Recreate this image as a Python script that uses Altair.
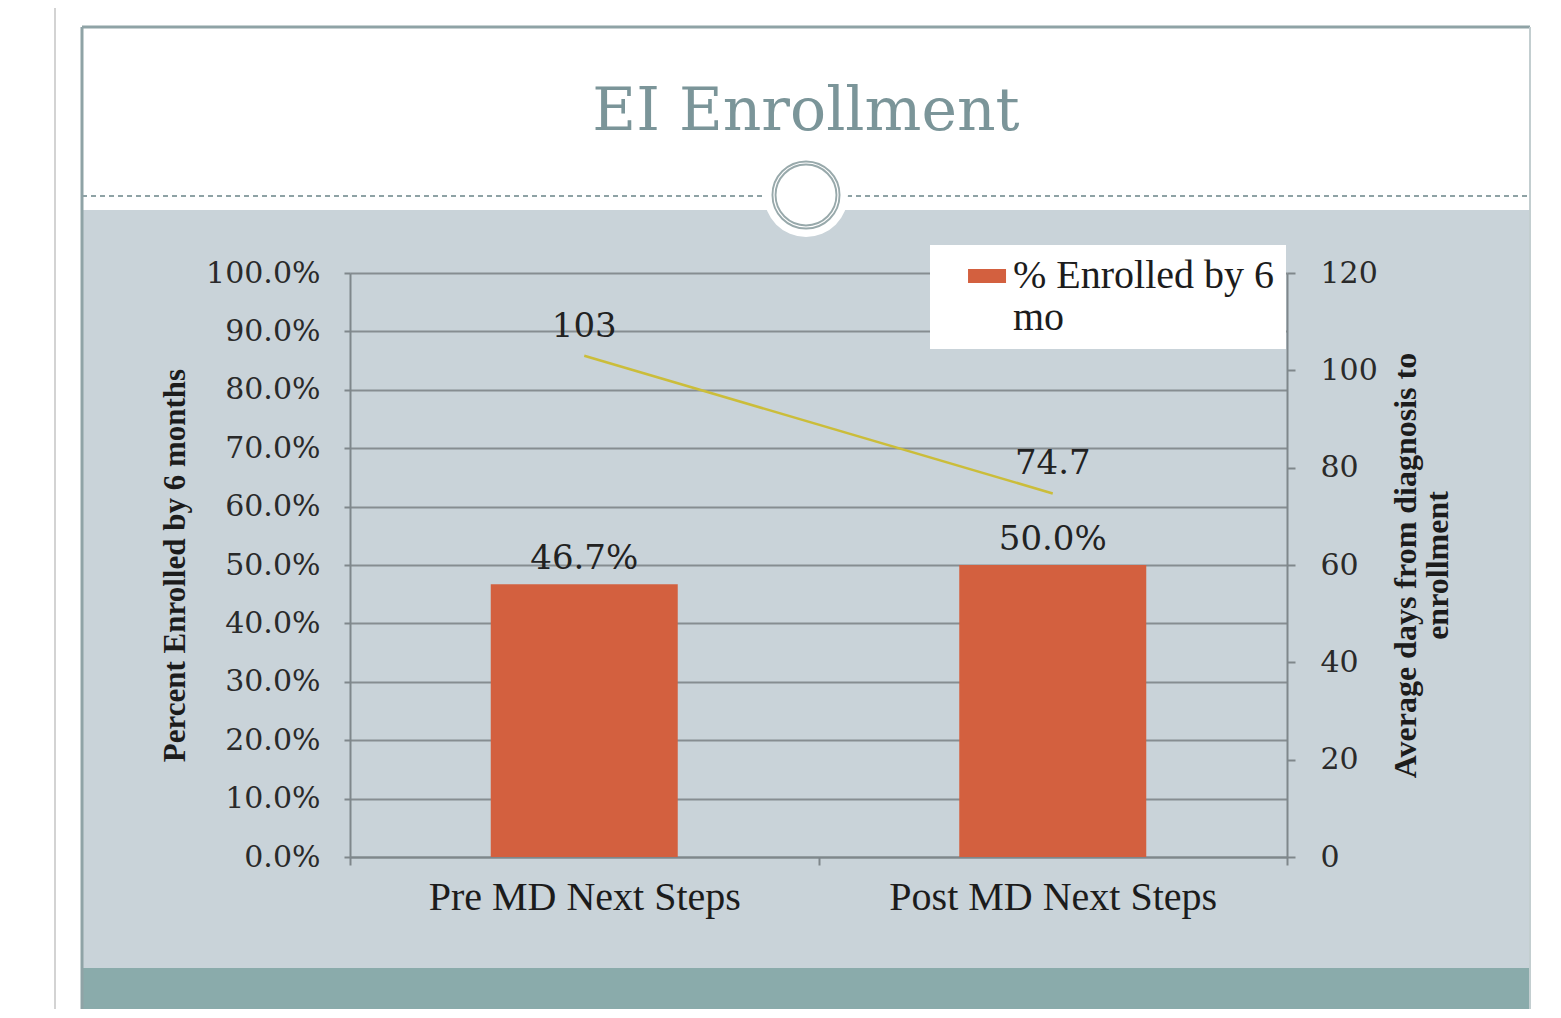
import altair as alt
import pandas as pd

# ---- data ----
categories = ["Pre MD Next Steps", "Post MD Next Steps"]
pct_enrolled = [0.467, 0.500]
avg_days = [103, 74.7]
series_name = "% Enrolled by 6 mo"
pct_ticks = [0.0, 0.1, 0.2, 0.3, 0.4, 0.5, 0.6, 0.7, 0.8, 0.9, 1.0]
day_ticks = [0, 20, 40, 60, 80, 100, 120]
title_text = "EI Enrollment"
left_title = "Percent Enrolled by 6 months"
right_title = ["Average days from diagnosis to", "enrollment"]

df = pd.DataFrame({
    "category": categories,
    "pct": pct_enrolled,
    "days": avg_days,
    "series": [series_name] * len(categories),
})
one = pd.DataFrame({"label": [title_text]})

# ---- style ----
W, H = 937, 584
BG = "#c9d3d9"
BAR = "#d3603f"
LINE = "#cbbd3a"
FRAME = "#8fa3a6"
TEAL = "#8aabab"
AXIS = "#7f878b"
GRID = "#868d91"
TXT = "#1c1c1c"
NUMFONT = "DejaVu Serif"
SERIF = "Liberation Serif"


def rect(x, x2, y, y2, color, **kw):
    return alt.Chart(one).mark_rect(color=color, **kw).encode(
        x=alt.value(x), x2=alt.value(x2), y=alt.value(y), y2=alt.value(y2))


def vrule(x, y, y2, color, width, **kw):
    return alt.Chart(one).mark_rule(color=color, strokeWidth=width, **kw).encode(
        x=alt.value(x), y=alt.value(y), y2=alt.value(y2))


def hrule(y, x, x2, color, width, **kw):
    return alt.Chart(one).mark_rule(color=color, strokeWidth=width, **kw).encode(
        y=alt.value(y), x=alt.value(x), x2=alt.value(x2))


def ring(cx, cy, size, **kw):
    return alt.Chart(one).mark_point(shape="circle", size=size, **kw).encode(
        x=alt.value(cx), y=alt.value(cy))


# slide decorations (outside the plot area)
decos = [
    rect(-360, -268, -290, 760, "white"),
    rect(1180, 1270, -290, 760, "white"),
    rect(-360, 1270, -290, -63, "white"),
    rect(-268, 1180, 695, 760, TEAL),
    vrule(-295, -273, 760, "#d3d3d3", 2),
    vrule(-268, -246, 760, FRAME, 3),
    hrule(-246, -268, 1180, FRAME, 3),
    vrule(1180, -246, 760, "#c3ced0", 2),
    hrule(-77, -268, 1180, "#8ea2a5", 2, strokeDash=[5, 4]),
    ring(456, -78, 7056, filled=True, color="white", opacity=1),
    ring(456, -78, 4096, filled=False, color="#98a9ab", strokeWidth=5, opacity=1),
    ring(456, -78, 4096, filled=False, color="white", strokeWidth=1.2, opacity=1),
]

# slide title
title = alt.Chart(one).mark_text(
    font=NUMFONT, fontSize=60, color="#7b9599", baseline="alphabetic", align="center"
).encode(x=alt.value(456), y=alt.value(-143), text="label:N")

x_enc = alt.X(
    "category:N", sort=categories,
    scale=alt.Scale(paddingInner=0, paddingOuter=0),
    axis=alt.Axis(title=None, labelAngle=0, labelFont=SERIF, labelFontSize=40,
                  labelColor=TXT, labelPadding=12, labelBaseline="top", labelLimit=600,
                  tickSize=8, tickBand="extent", tickColor=AXIS, tickWidth=2,
                  domainColor=AXIS, domainWidth=2, grid=False),
)

y_left = alt.Y(
    "pct:Q", scale=alt.Scale(domain=[0, 1], nice=False),
    axis=alt.Axis(values=pct_ticks, format=".1%", labelFont=NUMFONT, labelFontSize=30,
                  labelColor="#2a2a2a", labelPadding=24, tickSize=6, tickColor=AXIS,
                  tickWidth=2, domainColor=AXIS, domainWidth=2, gridColor=GRID,
                  gridWidth=2, title=left_title, titleFont=SERIF, titleFontSize=31,
                  titleFontWeight="bold", titleColor=TXT, titleAngle=270,
                  titleX=-175, titleY=H / 2, titleBaseline="middle", titleAlign="center"),
)

y_right = alt.Y(
    "days:Q", scale=alt.Scale(domain=[0, 120], nice=False),
    axis=alt.Axis(orient="right", values=day_ticks, grid=False, labelFont=NUMFONT,
                  labelFontSize=30, labelColor="#2a2a2a", labelPadding=25, tickSize=8,
                  tickColor=AXIS, tickWidth=2, domainColor=AXIS, domainWidth=2,
                  title=right_title, titleFont=SERIF, titleFontSize=32,
                  titleFontWeight="bold", titleColor=TXT, titleAngle=270,
                  titleX=118, titleY=H / 2, titleBaseline="middle", titleAlign="center",
                  titleLineHeight=32),
)

legend = alt.Legend(
    title=None, orient="none", legendX=580, legendY=-28, fillColor="white",
    padding=11, symbolType="M0.37,-0.37L2.37,-0.37L2.37,0.37L0.37,0.37Z",
    symbolSize=1444, symbolStrokeWidth=0, labelFont=SERIF, labelFontSize=40,
    labelColor=TXT, labelExpr="['% Enrolled by 6', 'mo']", labelLimit=500,
    labelOffset=32, labelBaseline="middle",
)

bars = alt.Chart(df).mark_bar(size=187).encode(
    x=x_enc, y=y_left,
    color=alt.Color("series:N", scale=alt.Scale(domain=[series_name], range=[BAR]),
                    legend=legend),
)
bar_text = alt.Chart(df).mark_text(
    baseline="bottom", dy=-8, font=NUMFONT, fontSize=34, color="#222"
).encode(x=x_enc, y=y_left, text=alt.Text("pct:Q", format=".1%"))

line = alt.Chart(df).mark_line(color=LINE, strokeWidth=2.5).encode(x=x_enc, y=y_right)
line_text = alt.Chart(df).mark_text(
    baseline="bottom", dy=-12, font=NUMFONT, fontSize=34, color="#222"
).encode(x=x_enc, y=y_right, text=alt.Text("days:Q"))

chart = (
    alt.layer(*decos, title, alt.layer(bars, bar_text), alt.layer(line, line_text))
    .resolve_scale(y="independent")
    .properties(
        width=W, height=H,
        padding={"left": 342, "top": 265, "right": 255, "bottom": 152},
        autosize=alt.AutoSizeParams(type="none"),
        background=BG,
    )
    .configure_view(stroke=None)
)

chart.save("out.html", embed_options={"renderer": "svg", "actions": False})
